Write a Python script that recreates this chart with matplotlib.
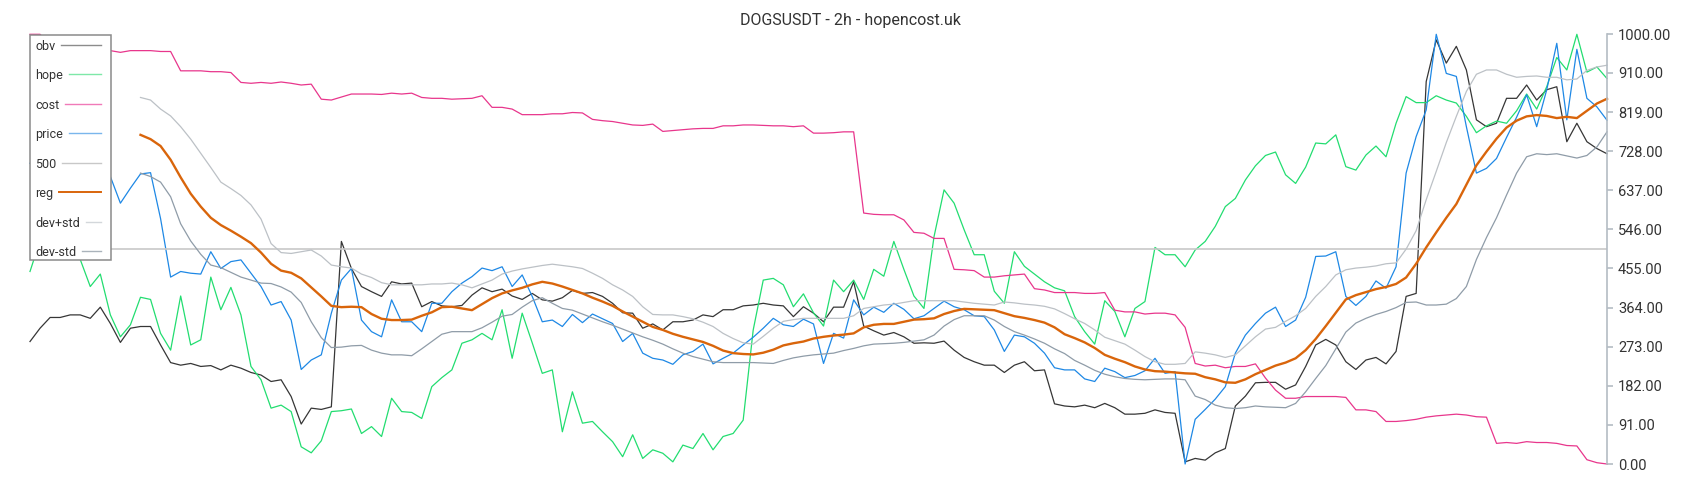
import numpy as np
import matplotlib
matplotlib.use("Agg")
import matplotlib.pyplot as plt
from matplotlib.lines import Line2D
from matplotlib.patches import Rectangle

plt.rcParams['font.family'] = ['Roboto', 'DejaVu Sans']

title = "DOGSUSDT - 2h - hopencost.uk"

# all series are scaled 0..1000, one value per step (every other candle)
obv = [285, 316, 341, 341, 347, 347, 339, 365, 327, 283,
       316, 320, 320, 277, 236, 230, 234, 227, 229, 219,
       230, 223, 213, 207, 192, 196, 157, 93, 130, 127,
       133, 518, 455, 413, 401, 390, 424, 419, 421, 366,
       378, 368, 366, 369, 393, 410, 401, 407, 391, 383,
       397, 382, 379, 387, 404, 397, 399, 390, 374, 352,
       351, 316, 326, 312, 331, 331, 335, 347, 343, 359,
       359, 368, 370, 374, 370, 368, 343, 366, 351, 331,
       365, 365, 424, 321, 310, 300, 306, 296, 281, 282,
       281, 286, 265, 248, 238, 230, 230, 213, 230, 238,
       217, 219, 140, 135, 133, 137, 131, 141, 131, 116,
       116, 118, 126, 120, 118, 5, 13, 9, 26, 36,
       135, 158, 189, 190, 190, 174, 184, 227, 277, 290,
       277, 238, 220, 242, 248, 233, 262, 390, 397, 890,
       987, 933, 972, 917, 801, 785, 793, 851, 851, 882,
       847, 871, 878, 750, 793, 750, 734, 722]

hope = [448, 520, 560, 540, 500, 476, 413, 442, 347, 296,
        324, 388, 383, 304, 265, 391, 277, 289, 435, 359,
        411, 347, 227, 196, 130, 137, 122, 40, 26, 54,
        122, 124, 128, 71, 87, 64, 153, 122, 120, 106,
        180, 201, 219, 281, 289, 304, 289, 359, 246, 351,
        282, 211, 219, 75, 168, 95, 99, 75, 52, 17,
        68, 13, 33, 25, 5, 44, 36, 71, 33, 64,
        71, 102, 312, 428, 432, 417, 366, 396, 352, 321,
        428, 401, 428, 383, 453, 437, 518, 453, 391, 362,
        529, 638, 607, 545, 487, 487, 402, 374, 494, 460,
        442, 424, 410, 403, 343, 308, 279, 380, 355, 296,
        362, 378, 504, 487, 487, 459, 498, 518, 553, 599,
        618, 661, 694, 718, 726, 673, 653, 691, 747, 745,
        766, 692, 684, 719, 740, 715, 793, 855, 841, 841,
        857, 847, 840, 809, 771, 787, 798, 793, 822, 861,
        826, 878, 946, 917, 1000, 912, 924, 897]

cost = [1000, 1000, 975, 968, 965, 965, 963, 965, 962, 958,
        962, 962, 962, 960, 960, 915, 915, 915, 913, 913,
        911, 888, 886, 888, 886, 889, 886, 882, 884, 849,
        847, 854, 861, 861, 861, 860, 863, 861, 863, 853,
        851, 851, 849, 850, 851, 857, 830, 830, 826, 813,
        813, 813, 815, 815, 818, 817, 802, 799, 797, 793,
        789, 788, 791, 774, 776, 778, 780, 781, 781, 787,
        787, 789, 789, 788, 787, 787, 785, 787, 770, 770,
        771, 773, 773, 584, 581, 580, 580, 568, 539, 537,
        525, 525, 453, 452, 450, 435, 435, 438, 440, 442,
        408, 405, 399, 399, 399, 397, 397, 399, 358, 354,
        354, 349, 351, 351, 347, 318, 234, 228, 230, 224,
        227, 227, 233, 200, 172, 153, 153, 157, 157, 157,
        157, 155, 126, 126, 122, 99, 99, 101, 104, 109,
        112, 114, 116, 114, 110, 109, 48, 50, 48, 52,
        50, 50, 48, 43, 42, 10, 3, 0]

price = [700, 720, 690, 710, 680, 700, 730, 700, 669, 607,
         642, 675, 678, 571, 435, 448, 444, 442, 494, 455,
         471, 475, 444, 413, 370, 378, 335, 220, 242, 254,
         351, 428, 455, 335, 308, 296, 382, 331, 331, 308,
         374, 374, 401, 421, 436, 456, 450, 459, 413, 440,
         390, 331, 335, 320, 348, 329, 349, 338, 327, 285,
         304, 258, 246, 242, 232, 254, 262, 279, 233, 246,
         258, 277, 295, 316, 339, 324, 320, 337, 326, 234,
         304, 293, 382, 347, 365, 353, 374, 360, 338, 345,
         362, 379, 366, 359, 345, 343, 312, 262, 300, 296,
         281, 258, 224, 219, 219, 198, 192, 223, 215, 201,
         206, 217, 246, 211, 215, 0, 104, 127, 151, 180,
         258, 300, 327, 351, 365, 320, 335, 388, 483, 484,
         494, 390, 369, 390, 426, 409, 459, 677, 762, 824,
         1000, 909, 902, 785, 677, 688, 711, 760, 807, 859,
         785, 871, 979, 801, 965, 851, 831, 800]

level_500 = 500

nan = np.nan
reg = [nan] * 11 + [
    766, 756, 740, 708, 667, 629, 599, 573, 556,
    543, 529, 514, 492, 466, 450, 445, 432, 411, 390,
    368, 365, 366, 365, 349, 338, 335, 335, 336, 345,
    353, 365, 366, 362, 358, 372, 386, 397, 404, 410,
    418, 424, 420, 413, 405, 397, 387, 378, 368, 355,
    343, 331, 319, 312, 303, 296, 290, 284, 275, 264,
    258, 256, 255, 259, 266, 276, 281, 285, 292, 296,
    299, 301, 304, 318, 324, 326, 326, 331, 336, 337,
    339, 349, 356, 361, 360, 359, 358, 351, 344, 340,
    335, 329, 318, 302, 293, 283, 270, 254, 245, 237,
    227, 220, 216, 215, 213, 211, 210, 202, 197, 190,
    189, 197, 209, 219, 229, 236, 246, 265, 291, 321,
    352, 383, 393, 400, 407, 412, 419, 434, 466, 504,
    539, 573, 605, 650, 695, 727, 757, 783, 799, 809,
    812, 810, 805, 808, 805, 822, 839, 850]

dev_plus = [nan] * 11 + [
    853, 847, 826, 810, 785, 756, 723, 690, 656,
    641, 625, 603, 570, 513, 492, 490, 494, 498, 484,
    463, 459, 456, 442, 434, 422, 417, 417, 417, 417,
    419, 419, 421, 417, 410, 419, 428, 442, 449, 454,
    458, 462, 465, 462, 459, 455, 444, 432, 417, 405,
    390, 366, 348, 347, 347, 343, 338, 330, 320, 304,
    292, 282, 279, 297, 316, 332, 336, 339, 339, 339,
    339, 339, 345, 362, 366, 370, 372, 376, 380, 380,
    380, 380, 380, 377, 374, 372, 370, 377, 375, 372,
    370, 367, 361, 350, 338, 327, 312, 295, 287, 279,
    265, 250, 238, 232, 232, 234, 261, 258, 254, 248,
    254, 275, 296, 314, 318, 332, 345, 362, 390, 413,
    440, 452, 456, 458, 461, 466, 468, 500, 543, 615,
    681, 748, 809, 867, 907, 917, 917, 907, 900, 902,
    903, 900, 900, 894, 896, 916, 924, 928]

dev_minus = [nan] * 11 + [
    677, 669, 656, 622, 559, 519, 488, 463, 457,
    446, 435, 428, 421, 420, 412, 400, 376, 331, 294,
    271, 272, 275, 276, 265, 258, 254, 254, 252, 268,
    285, 302, 308, 308, 308, 317, 330, 344, 348, 365,
    380, 387, 374, 362, 358, 349, 340, 331, 323, 314,
    305, 296, 288, 279, 268, 258, 250, 244, 238, 236,
    236, 236, 236, 235, 234, 241, 247, 251, 254, 256,
    258, 264, 269, 275, 279, 280, 281, 283, 286, 289,
    300, 321, 336, 345, 345, 345, 335, 320, 308, 300,
    291, 281, 268, 257, 241, 230, 218, 209, 203, 199,
    197, 196, 197, 198, 198, 196, 158, 150, 137, 131,
    129, 131, 135, 133, 132, 131, 141, 168, 199, 229,
    268, 307, 328, 339, 348, 355, 364, 376, 377, 370,
    370, 372, 385, 413, 476, 527, 573, 626, 677, 715,
    722, 720, 722, 717, 712, 718, 738, 773]

y_ticks = [0, 91, 182, 273, 364, 455, 546, 637, 728, 819, 910, 1000]

names = ['obv', 'hope', 'cost', 'price', '500', 'reg', 'dev+std', 'dev-std']
line_colors = ['#363636', '#22dd70', '#e8368c', '#1e88e5', '#c8c8c8',
               '#d9650b', '#bcc1c6', '#8f9ca8']
legend_colors = ['#8c8c8c', '#7ee8a8', '#f07ab8', '#7ab6ec', '#c8c8c8',
                 '#d9650b', '#d3d7db', '#aab3bb']

x = np.arange(len(obv))

fig = plt.figure(figsize=(17, 5), dpi=100)
ax = fig.add_axes([30 / 1700, 36 / 500, 1577 / 1700, 429.7 / 500])

lw = 0.9
ax.plot(x, obv, color=line_colors[0], lw=lw, clip_on=False)
ax.plot(x, hope, color=line_colors[1], lw=lw, clip_on=False)
ax.plot(x, cost, color=line_colors[2], lw=lw, clip_on=False)
ax.plot(x, price, color=line_colors[3], lw=lw, clip_on=False)
ax.axhline(level_500, color=line_colors[4], lw=1.2)
ax.plot(x, reg, color=line_colors[5], lw=1.7, clip_on=False)
ax.plot(x, dev_plus, color=line_colors[6], lw=lw, clip_on=False)
ax.plot(x, dev_minus, color=line_colors[7], lw=lw, clip_on=False)

ax.set_xlim(0, len(obv) - 1)
ax.set_ylim(0, 1000)
ax.yaxis.tick_right()
ax.set_yticks(y_ticks)
ax.set_yticklabels(['{:.2f}'.format(v) for v in y_ticks])
ax.set_xticks([])
for s in ['left', 'top', 'bottom']:
    ax.spines[s].set_visible(False)
ax.spines['right'].set_color('#b4bcc4')
ax.spines['right'].set_linewidth(1.2)
ax.tick_params(axis='y', colors='#b4bcc4', labelcolor='#333333',
               labelsize=10.5, length=4, width=1.2, pad=4)

fig.text(0.5, 1 - 20.5 / 500, title, ha='center', va='center',
         fontsize=11.5, color='#333333')

# hand-made legend: labels left aligned, lines run to the right edge
W, H = 1700, 500
box = Rectangle((30 / W, 1 - 259.7 / H), 81 / W, 225 / H,
                transform=fig.transFigure, facecolor='white',
                edgecolor='#8a8a8a', lw=1.1, zorder=10)
fig.add_artist(box)
renderer = fig.canvas.get_renderer()
for k, (name, c) in enumerate(zip(names, legend_colors)):
    yp = 45 + 29.43 * k
    t = fig.text(35 / W, 1 - yp / H, name, ha='left', va='center_baseline',
                 fontsize=9, color='#333333', zorder=11)
    bb = t.get_window_extent(renderer)
    x0 = bb.x1 + 6
    fig.add_artist(Line2D([x0 / W, 100.7 / W], [1 - yp / H, 1 - yp / H],
                          transform=fig.transFigure, color=c,
                          lw=1.4 if name == 'reg' else 1.0, zorder=11))

fig.savefig('out.png', dpi=100)
